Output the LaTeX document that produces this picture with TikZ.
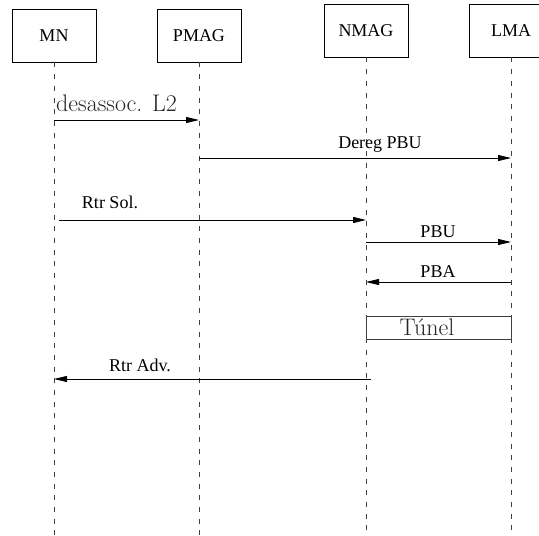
\documentclass[tikz,border=0pt]{standalone}
\usepackage{fontspec}
\newfontfamily\timesfont{Liberation Serif}
\usetikzlibrary{arrows.meta}
\begin{document}
\begin{tikzpicture}[x=1pt, y=-1pt, >={Triangle[length=13pt,width=6pt]},
		entity/.style={draw, line width=0.8pt, minimum width=84pt, minimum height=53pt, font=\timesfont\fontsize{18}{20}\selectfont},
		lifeline/.style={black!75, line width=0.8pt, dash pattern=on 5pt off 6.7pt},
		msg/.style={->, line width=0.8pt},
		lbl/.style={font=\timesfont\fontsize{18}{20}\selectfont},
		cmlbl/.style={black!85, font=\fontsize{24}{26}\selectfont}]
		\useasboundingbox (0,0) rectangle (539,536);
		
		% Entities
		\node[entity] (mn) at (54,35.5) {MN};
		\node[entity] (pmag) at (199,35.5) {PMAG};
		\node[entity] (nmag) at (366,30.5) {NMAG};
		\node[entity] (lma) at (511,30.5) {LMA};
		
		% Lifelines
		\coordinate (mnend) at (54,536);
		\coordinate (pmagend) at (199,536);
		\coordinate (nmagend) at (366,532);
		\coordinate (lmaend) at (511,532);
		\draw[lifeline] (mn.south) -- (mnend);
		\draw[lifeline] (pmag.south) -- (pmagend);
		\draw[lifeline] (nmag.south) -- (nmagend);
		\draw[lifeline] (lma.south) -- (lmaend);
		
		% Rows
		\coordinate (r1) at (0,120);
		\coordinate (r2) at (0,158);
		\coordinate (r3) at (0,220);
		\coordinate (r4) at (0,242);
		\coordinate (r5) at (0,282);
		\coordinate (r6) at (0,379);
		
		% Messages
		\draw[msg] (mn |- r1) -- (pmag |- r1);
		\draw[msg] (pmag |- r2) -- (lma |- r2);
		\draw[msg] ([xshift=5pt]mn |- r3) -- (nmag |- r3);
		\draw[msg] (nmag |- r4) -- (lma |- r4);
		\draw[msg] (lma |- r5) -- (nmag |- r5);
		\draw[msg] ([xshift=5pt]nmag |- r6) -- (mn |- r6);
		
		% Labels
		\node[cmlbl, anchor=base west, inner sep=0pt] (l1) at (56,111) {desassoc. L2};
		\node[lbl] (l2) at (380,145) {Dereg PBU};
		\node[lbl] (l3) at (110,202) {Rtr Sol.};
		\node[lbl] (l4) at (438,232) {PBU};
		\node[lbl] (l5) at (438,272) {PBA};
		\node[lbl] (l6) at (140,365) {Rtr Adv.};
		
		% Tunnel
		\node[draw, black!75, line width=0.8pt, inner sep=0pt, minimum width=145pt, minimum height=23pt] (tun) at (438.5,327.5) {};
		\node[cmlbl] (tunlbl) at (427,327) {Túnel};
	\end{tikzpicture}
\end{document}
